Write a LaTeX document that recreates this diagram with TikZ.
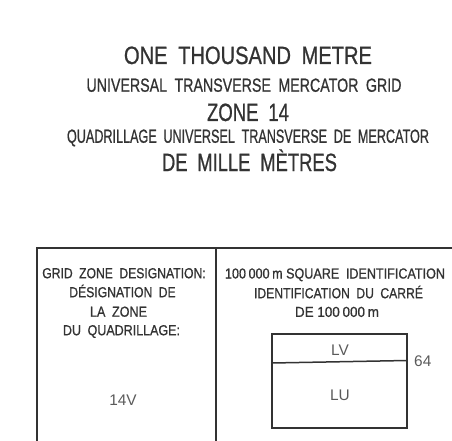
\documentclass[tikz,border=0pt]{standalone}
\usepackage{fontspec}
\setmainfont{Liberation Sans}
\newfontfamily\cond[FakeBold=0.9,WordSpace=1.9]{Liberation Sans}
\definecolor{ink}{HTML}{333333}
\definecolor{lite}{HTML}{5A5A5A}
\newsavebox\fitbox
\newcommand\fitw[2]{\sbox\fitbox{#2}\pgfmathsetmacro\fitf{#1pt/\the\wd\fitbox}\scalebox{\fitf}[1]{\usebox\fitbox}}
\tikzset{
  big/.style={font=\cond\fontsize{25}{25}\selectfont, text=ink, inner sep=0pt, text height=18pt, text depth=0pt},
  mid/.style={font=\cond\fontsize{19}{19}\selectfont, text=ink, inner sep=0pt, text height=13.5pt, text depth=0pt},
  sml/.style={font=\cond\fontsize{14.5}{14.5}\selectfont, text=ink, inner sep=0pt, text height=10.4pt, text depth=0pt},
  val/.style={font=\fontsize{15.4}{15.4}\selectfont, text=lite, inner sep=0pt, text height=11pt, text depth=0pt},
  rule/.style={draw=ink, line width=1.5pt},
}
\begin{document}
\begin{tikzpicture}[x=1pt,y=-1pt]
\useasboundingbox (0,0) rectangle (452,441);
% titles
\node[big] (t1) at (248,55) {\fitw{248}{ONE THOUSAND METRE}};
\node[mid] (t2) at (244,85) {\fitw{315}{UNIVERSAL TRANSVERSE MERCATOR GRID}};
\node[big] (t3) at (248,112) {\fitw{82}{ZONE 14}};
\node[mid] (t4) at (248,136) {\fitw{362}{QUADRILLAGE UNIVERSEL TRANSVERSE DE MERCATOR}};
\node[big] (t5) at (249.5,162) {\fitw{175}{DE MILLE MÈTRES}};
% table frame
\coordinate (tl) at (37,248);
\coordinate (tr) at (452,248);
\coordinate (bl) at (37,441);
\coordinate (dt) at (216,248);
\coordinate (db) at (216,441);
\draw[rule] (bl) -- (tl) -- (tr);
\draw[rule] (dt) -- (db);
% left cell
\node[sml] (g1) at (124,273) {\fitw{163.4}{GRID ZONE DESIGNATION:}};
\node[sml] (g2) at (122.5,292) {\fitw{106.4}{DÉSIGNATION DE}};
\node[sml] (g3) at (118.5,311.5) {\fitw{57}{LA ZONE}};
\node[sml] (g4) at (121.5,330) {\fitw{117}{DU QUADRILLAGE:}};
\node[val] (z) at (123,400) {14V};
% right cell
\node[sml] (s1) at (335,273.3) {\fitw{220}{100\kern3pt000\kern3pt m\kern4pt SQUARE IDENTIFICATION}};
\node[sml] (s2) at (338.5,293) {\fitw{169}{IDENTIFICATION DU CARRÉ}};
\node[sml] (s3) at (337,311.7) {\fitw{84}{DE\kern4pt 100\kern3pt000\kern3pt m}};
% inner square
\coordinate (a) at (272,334);
\coordinate (b) at (407,334);
\coordinate (c) at (407,428);
\coordinate (d) at (272,428);
\coordinate (ml) at (272,363);
\coordinate (mr) at (407,360.5);
\draw[rule] (a) -- (b) -- (c) -- (d) -- cycle;
\draw[rule] (ml) -- (mr);
\node[val] (lv) at (340,350) {LV};
\node[val] (lu) at (340,395) {LU};
\node[val, anchor=west] (n64) at (414,361) {64};
\end{tikzpicture}
\end{document}
